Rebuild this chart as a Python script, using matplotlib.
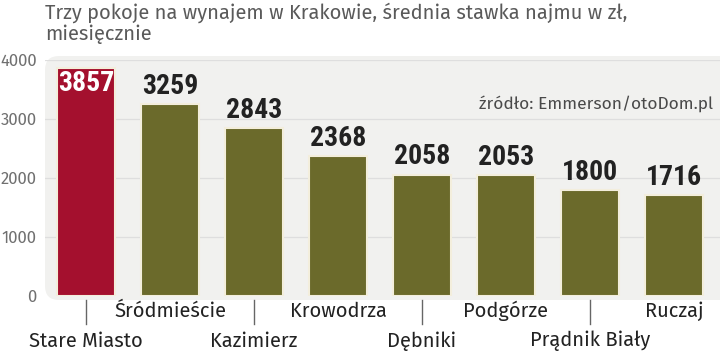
import matplotlib
matplotlib.use("Agg")
import matplotlib.pyplot as plt
from matplotlib.patches import FancyBboxPatch
import logging
logging.getLogger("matplotlib.font_manager").setLevel(logging.ERROR)

categories = ["Stare Miasto", "Śródmieście", "Kazimierz", "Krowodrza",
              "Dębniki", "Podgórze", "Prądnik Biały", "Ruczaj"]
values = [3857, 3259, 2843, 2368, 2058, 2053, 1800, 1716]
yticks = [0, 1000, 2000, 3000, 4000]
title = "Trzy pokoje na wynajem w Krakowie, średnia stawka najmu w zł,\nmiesięcznie"
source = "źródło: Emmerson/otoDom.pl"

body = ['Fira Sans', 'Open Sans', 'DejaVu Sans']
cond = ['Roboto Condensed', 'IBM Plex Sans Condensed', 'Fira Sans Condensed', 'DejaVu Sans']
plt.rcParams['font.family'] = body

fig = plt.figure(figsize=(7.2, 3.54), dpi=100)
ax = fig.add_axes([45/720, 58/354, 675/720, 236/354])
ax.set_xlim(-0.49, 7.55)
ax.set_ylim(0, 4000)

# background panel (in figure pixels)
bg = FancyBboxPatch((45, 354 - 300), 700, 244, boxstyle="round,pad=0,rounding_size=14",
                    facecolor="#f1f1ef", edgecolor="none", zorder=-5,
                    transform=None)
fig.patches.append(bg)

for y in yticks[1:]:
    ax.axhline(y, color="#dedede", lw=0.9, zorder=1)

colors = ["#a4102e"] + ["#6b6a2b"] * 7
x = list(range(len(categories)))
ax.bar(x, values, width=0.69, color=colors, edgecolor="#f3eedc", linewidth=1.5, zorder=2)

for i, v in enumerate(values):
    if i == 0:
        ax.text(i, v - 30, str(v), ha="center", va="top", color="white",
                fontsize=20, fontweight="bold", family=cond, zorder=3)
    else:
        ax.text(i, v + 70, str(v), ha="center", va="bottom", color="#222222",
                fontsize=20, fontweight="bold", family=cond, zorder=3)

ax.patch.set_visible(False)
for s in ax.spines.values():
    s.set_visible(False)
ax.set_xticks([])
ax.set_yticks(yticks)
ax.set_yticklabels([str(t) for t in yticks], color="#707070", fontsize=12)
ax.tick_params(axis="y", length=0, pad=6)

# category labels in two rows
for i, c in enumerate(categories):
    if i % 2 == 0:
        ax.plot([i, i], [-60, -480], color="#666666", lw=1, clip_on=False, zorder=2)
        ax.text(i, -760, c, ha="center", va="center", fontsize=14.5, color="#222222",
                clip_on=False)
    else:
        ax.text(i, -260, c, ha="center", va="center", fontsize=14.5, color="#222222",
                clip_on=False)

fig.text(45/720, 1 - 2/354, title, ha="left", va="top", fontsize=14.5,
         color="#5a5a5a", linespacing=1.1)
ax.text(7.47, 3270, source, ha="right", va="center", fontsize=12.5, color="#4a4a4a")

fig.savefig("out.png", dpi=100, facecolor="white")
